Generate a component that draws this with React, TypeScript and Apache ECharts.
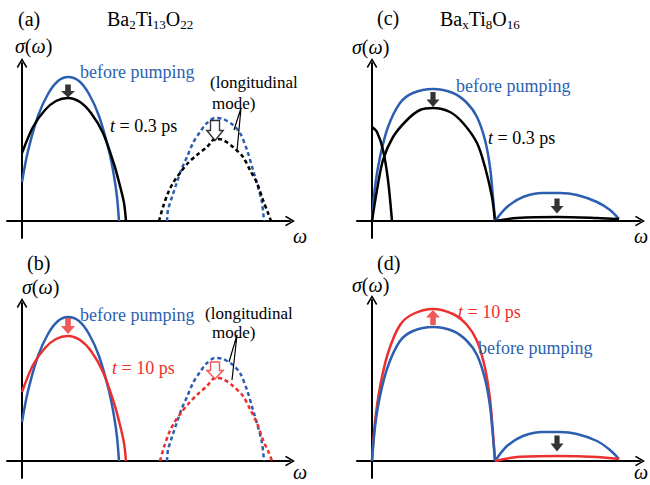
import React, { useEffect, useRef } from "react";
import * as echarts from "echarts";

const BLUE = "#2d5fb0";
const RED = "#ec2f2f";
const FAMILY = "Liberation Serif";

// ---- (a)/(b) Ba2Ti13O22 : [omega, sigma] in arbitrary units ----
const beforeMain = [[0, 3.9], [0.6, 7.0], [1.6, 10.5], [2.6, 12.7], [3.6, 14.0], [4.6, 14.4], [5.7, 14.0], [6.7, 12.7], [7.7, 10.5], [8.7, 7.0], [9.2, 4.5], [9.5, 2.4], [9.7, 0]];
const t03Main = [[0, 6.8], [1.1, 9.4], [2.3, 11.1], [3.4, 12.0], [4.6, 12.3], [5.8, 11.9], [6.9, 10.8], [8.1, 8.8], [9.2, 5.7], [9.8, 3.5], [10.2, 1.8], [10.4, 0]];
const t10Main = [[0, 6.9], [1.1, 9.6], [2.3, 11.3], [3.4, 12.2], [4.6, 12.5], [5.8, 12.1], [6.9, 11.0], [8.1, 8.9], [9.2, 5.8], [9.8, 3.6], [10.2, 1.8], [10.4, 0]];
const beforeLong = [[14.5, 0], [14.6, 1.1], [15.0, 2.4], [15.5, 3.9], [16.0, 5.3], [16.5, 6.4], [17.1, 7.8], [17.8, 8.9], [18.5, 9.8], [19.3, 10.3], [20.1, 10.2], [21.1, 9.6], [21.8, 8.8], [22.5, 7.1], [23.1, 5.1], [23.6, 3.4], [24.0, 1.8], [24.2, 0]];
const t03Long = [[13.7, 0], [14.1, 1.4], [14.6, 2.8], [15.1, 3.8], [15.8, 4.8], [16.6, 5.8], [17.5, 6.6], [18.5, 7.4], [19.3, 8.2], [20.1, 8.1], [21.1, 7.4], [22.1, 6.4], [22.8, 5.1], [23.5, 3.8], [24.1, 2.1], [24.6, 0.8], [24.9, 0]];
const t10Long = [[13.8, 0], [14.2, 1.4], [14.7, 2.8], [15.2, 3.8], [15.9, 4.8], [16.7, 5.8], [17.6, 6.7], [18.5, 7.5], [19.3, 8.3], [20.1, 8.2], [21.1, 7.5], [22.1, 6.5], [22.8, 5.2], [23.5, 3.8], [24.1, 2.1], [24.7, 0.8], [25.0, 0]];
const leaderA = [[21.2, 9.1], [21.9, 11.3], [21.5, 7.0]];
const leaderB = [[20.7, 9.9], [21.5, 12.6], [21.0, 8.1]];

// ---- (c)/(d) BaxTi8O16 ----
const beforeBigC = [[0, 0], [0.3, 3.4], [0.8, 6.4], [1.6, 9.4], [2.8, 11.8], [4.1, 12.8], [6.1, 13.2], [8.1, 12.8], [9.5, 11.8], [10.5, 10.4], [11.3, 8.1], [11.8, 5.4], [12.1, 2.4], [12.3, 0]];
const t03BigC = [[0, 0], [0.5, 3.1], [1.1, 6.1], [2.1, 8.4], [3.5, 10.1], [4.8, 11.1], [6.1, 11.3], [7.8, 10.9], [9.1, 9.8], [10.5, 7.8], [11.3, 5.4], [12.0, 2.4], [12.3, 0]];
const t03Drude = [[0, 9.4], [0.5, 8.9], [1.1, 7.1], [1.6, 4.1], [2.0, 0]];
const beforeSmallC = [[12.3, 0], [13.5, 1.4], [15.1, 2.4], [17.1, 2.8], [18.8, 2.8], [20.5, 2.6], [22.5, 1.9], [23.8, 1.1], [24.7, 0.2]];
const t03SmallC = [[12.3, 0], [14.5, 0.3], [18.6, 0.4], [22.5, 0.3], [24.7, 0.2]];
const beforeBigD = [[0, 0], [0.3, 3.4], [0.8, 6.5], [1.6, 9.5], [2.8, 12.0], [4.1, 13.0], [6.1, 13.4], [8.1, 13.0], [9.5, 12.0], [10.5, 10.6], [11.3, 8.2], [11.8, 5.5], [12.1, 2.4], [12.3, 0]];
const t10BigD = [[0, 0], [0.3, 3.9], [0.8, 7.4], [1.6, 10.8], [2.8, 13.6], [4.1, 14.7], [6.1, 15.2], [8.1, 14.7], [9.5, 13.6], [10.5, 12.0], [11.3, 9.3], [11.8, 6.2], [12.1, 2.8], [12.3, 0]];
const beforeSmallD = [[12.3, 0], [13.5, 1.5], [15.1, 2.5], [17.1, 2.9], [18.8, 2.9], [20.5, 2.7], [22.5, 2.0], [23.8, 1.1], [24.7, 0.2]];
const t10SmallD = [[12.3, 0], [14.5, 0.4], [18.6, 0.5], [22.5, 0.4], [24.7, 0.2]];

// ---- arrow anchor points ----
const arrowDownA = [[4.6, 13.0]];
const arrowHollowA = [[19.3, 9.05]];
const arrowDownB = [[4.6, 13.5]];
const arrowHollowB = [[19.3, 9.05]];
const arrowDownC = [[6.1, 12.15], [18.5, 1.5]];
const arrowUpD = [[6.1, 14.35]];
const arrowDownD = [[18.5, 1.75]];

const ARROW = "path://M3,0 L7,0 L7,6 L10,6 L5,12 L0,6 L3,6 Z";
const HOLLOW = "path://M3.5,0 L12.5,0 L12.5,10 L16,10 L8,20 L0,10 L3.5,10 Z";
const CHEVRON = "path://M5,0 L10,8.5 L8.8,9.4 L5,2.8 L1.2,9.4 L0,8.5 Z";

const grids = [
  { left: 7, top: 63, width: 283, height: 175 },
  { left: 7, top: 303, width: 283, height: 175 },
  { left: 357, top: 63, width: 283, height: 175 },
  { left: 357, top: 300, width: 283, height: 178 },
];
const yRanges = [[-1.7, 15.8], [-1.7, 15.8], [-1.7, 15.8], [-1.7, 16.1]];

function curve(i: number, data: number[][], color: string, dashed = false) {
  return {
    type: "line", xAxisIndex: i, yAxisIndex: i, data, smooth: 0.3,
    symbol: "none", silent: true, z: 3,
    lineStyle: { color, width: 2.5, type: dashed ? [4, 3] : "solid" },
  };
}
function leader(i: number, data: number[][]) {
  return {
    type: "line", xAxisIndex: i, yAxisIndex: i, data, symbol: "none", silent: true, z: 4,
    lineStyle: { color: "#000", width: 1.2 },
  };
}
function arrow(i: number, data: number[][], symbol: string, size: number[], color: string, hollow = false, rotate = 0) {
  return {
    type: "scatter", xAxisIndex: i, yAxisIndex: i, data, symbol, symbolSize: size, symbolRotate: rotate,
    silent: true, z: 6,
    itemStyle: hollow ? { color: "#fff", borderColor: color, borderWidth: 1.5 } : { color },
  };
}

function plain(x: number, y: number, text: string, fontSize = 18, fill = "#000", italic = false) {
  return {
    type: "text", x, y, silent: true, z: 10,
    style: {
      text, fill, fontFamily: FAMILY, fontSize, fontStyle: italic ? "italic" : "normal",
      align: "left", verticalAlign: "middle",
    },
  };
}
function rich(x: number, y: number, text: string, fontSize = 18, fill = "#000") {
  return {
    type: "text", x, y, silent: true, z: 10,
    style: {
      text, fill, fontFamily: FAMILY, fontSize, lineHeight: 22,
      align: "left", verticalAlign: "middle",
      rich: {
        n: { fontFamily: FAMILY, fontSize, fill, padding: [0, 0, 0, 0] },
        i: { fontStyle: "italic", fontFamily: FAMILY, fontSize, fill, padding: [0, 0, 0, 0] },
        s: { fontFamily: FAMILY, fontSize: 13, fill, verticalAlign: "middle", padding: [11, 0, 0, 0] },
      },
    },
  };
}

const CSS = ".fig-root text, .fig-root tspan { font-family: 'Liberation Serif', 'Times New Roman', serif !important; }";

export default function App() {
  const ref = useRef<HTMLDivElement>(null);
  useEffect(() => {
    if (!ref.current) return;
    const chart = echarts.init(ref.current, undefined, { renderer: "svg" });
    const axisLine = {
      onZero: true, symbol: ["none", CHEVRON], symbolSize: [12, 10],
      lineStyle: { color: "#000", width: 2 },
    };
    const hidden = { axisTick: { show: false }, axisLabel: { show: false }, splitLine: { show: false } };
    chart.setOption({
      animation: false,
      backgroundColor: "#fff",
      textStyle: { fontFamily: FAMILY },
      grid: grids,
      xAxis: grids.map((_, i) => ({ type: "value", gridIndex: i, min: -1.5, max: 26.8, axisLine, ...hidden })),
      yAxis: grids.map((_, i) => ({ type: "value", gridIndex: i, min: yRanges[i][0], max: yRanges[i][1], axisLine, ...hidden })),
      series: [
        // (a)
        curve(0, beforeMain, BLUE), curve(0, t03Main, "#000"),
        curve(0, beforeLong, BLUE, true), curve(0, t03Long, "#000", true),
        leader(0, leaderA),
        arrow(0, arrowDownA, ARROW, [14, 13], "#000"),
        arrow(0, arrowHollowA, HOLLOW, [16, 20], "#000", true),
        // (b)
        curve(1, beforeMain, BLUE), curve(1, t10Main, RED),
        curve(1, beforeLong, BLUE, true), curve(1, t10Long, RED, true),
        leader(1, leaderB),
        arrow(1, arrowDownB, ARROW, [14, 16], RED),
        arrow(1, arrowHollowB, HOLLOW, [16, 17], RED, true),
        // (c)
        curve(2, beforeBigC, BLUE), curve(2, t03BigC, "#000"), curve(2, t03Drude, "#000"),
        curve(2, beforeSmallC, BLUE), curve(2, t03SmallC, "#000"),
        arrow(2, arrowDownC, ARROW, [13, 15], "#000"),
        // (d)
        curve(3, t10BigD, RED), curve(3, beforeBigD, BLUE),
        curve(3, beforeSmallD, BLUE), curve(3, t10SmallD, RED),
        arrow(3, arrowUpD, ARROW, [14, 15], RED, false, 180),
        arrow(3, arrowDownD, ARROW, [13, 16], "#000"),
      ],
      graphic: [
        // (a)
        plain(18, 19, "(a)", 20),
        rich(107, 19, "{n|Ba}{s|2}{n|Ti}{s|13}{n|O}{s|22}", 20),
        rich(15, 46, "{i|σ}{n|(}{i|ω}{n|)}", 20),
        plain(80, 72, "before pumping", 18, BLUE),
        rich(110, 126, "{i|t}{n| = 0.3 ps}", 18),
        plain(210, 82, "(longitudinal", 17),
        plain(212, 103, "mode)", 17),
        plain(293, 236, "ω", 20, "#000", true),
        // (b)
        plain(27, 263, "(b)", 20),
        rich(22, 287, "{i|σ}{n|(}{i|ω}{n|)}", 20),
        plain(80, 315, "before pumping", 18, BLUE),
        rich(112, 368, "{i|t}{n| = 10 ps}", 18, RED),
        plain(205, 313, "(longitudinal", 17),
        plain(212, 332, "mode)", 17),
        plain(293, 472, "ω", 20, "#000", true),
        // (c)
        plain(377, 18, "(c)", 20),
        rich(440, 19, "{n|Ba}{s|x}{n|Ti}{s|8}{n|O}{s|16}", 20),
        rich(352, 47, "{i|σ}{n|(}{i|ω}{n|)}", 20),
        plain(456, 86, "before pumping", 18, BLUE),
        rich(488, 138, "{i|t}{n| = 0.3 ps}", 18),
        plain(634, 236, "ω", 20, "#000", true),
        // (d)
        plain(377, 263, "(d)", 20),
        rich(352, 285, "{i|σ}{n|(}{i|ω}{n|)}", 20),
        rich(458, 312, "{i|t}{n| = 10 ps}", 18, RED),
        plain(478, 348, "before pumping", 18, BLUE),
        plain(634, 472, "ω", 20, "#000", true),
      ],
    });
    return () => chart.dispose();
  }, []);
  return (
    <>
      <style>{CSS}</style>
      <div ref={ref} className="fig-root" style={{ position: "fixed", left: 0, top: 0, width: 650, height: 485 }} />
    </>
  );
}
